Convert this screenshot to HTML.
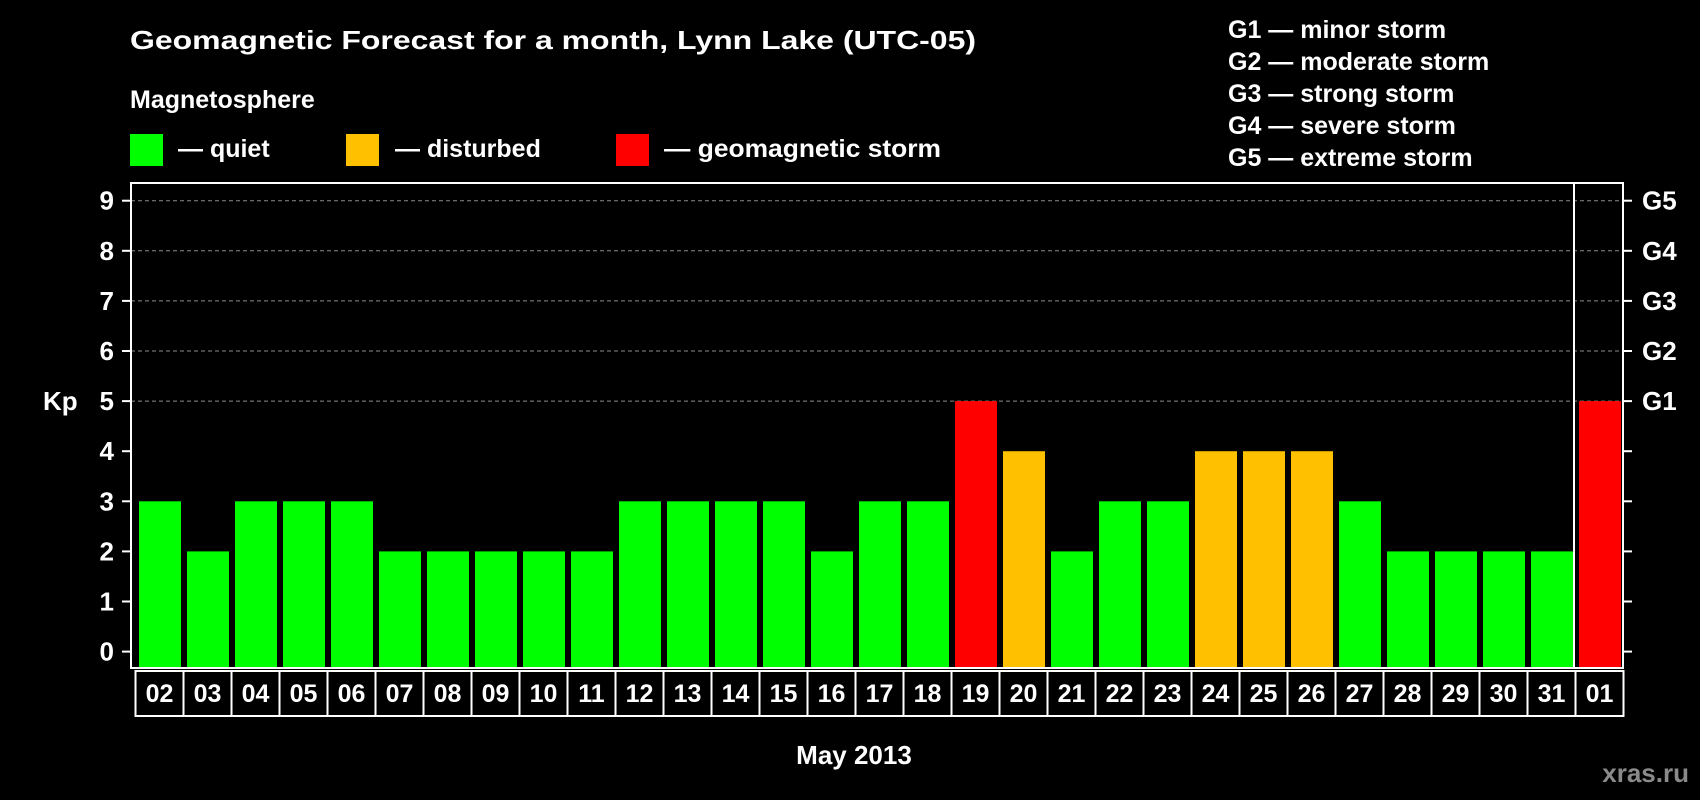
<!DOCTYPE html>
<html><head><meta charset="utf-8"><style>
html,body{margin:0;padding:0;background:#000;}
svg{display:block;font-family:"Liberation Sans",Arial,sans-serif;font-weight:bold;}
</style></head><body>
<svg id="chart" width="1700" height="800" viewBox="0 0 1700 800" xmlns="http://www.w3.org/2000/svg">
<rect x="0" y="0" width="1700" height="800" fill="#000"/>
<text x="130" y="49" fill="#fff" font-size="26" textLength="846" lengthAdjust="spacingAndGlyphs">Geomagnetic Forecast for a month, Lynn Lake (UTC-05)</text>
<text x="130" y="108" fill="#fff" font-size="25">Magnetosphere</text>
<g>
<rect x="130" y="134" width="33" height="32" fill="#00ff00"/>
<text x="178" y="157" fill="#fff" font-size="25">— quiet</text></g>
<g>
<rect x="346" y="134" width="33" height="32" fill="#ffc000"/>
<text x="395" y="157" fill="#fff" font-size="25">— disturbed</text></g>
<g>
<rect x="616" y="134" width="33" height="32" fill="#ff0000"/>
<text x="664" y="157" fill="#fff" font-size="25" textLength="277" lengthAdjust="spacingAndGlyphs">— geomagnetic storm</text></g>
<g fill="#fff" font-size="25">
<text x="1228" y="38">G1 — minor storm</text>
<text x="1228" y="70">G2 — moderate storm</text>
<text x="1228" y="102">G3 — strong storm</text>
<text x="1228" y="134">G4 — severe storm</text>
<text x="1228" y="166">G5 — extreme storm</text>
</g>
<text x="43" y="410" fill="#fff" font-size="26">Kp</text>
<text x="854" y="764" fill="#fff" font-size="26" text-anchor="middle">May 2013</text>
<text x="1689" y="782" fill="#8a8a8a" font-size="26" text-anchor="end">xras.ru</text>
<g id="plot"></g>
</svg>
<script>
const categories=["02","03","04","05","06","07","08","09","10","11","12","13","14","15","16","17","18","19","20","21","22","23","24","25","26","27","28","29","30","31","01"];
const kpValues=[3,2,3,3,3,2,2,2,2,2,3,3,3,3,2,3,3,5,4,2,3,3,4,4,4,3,2,2,2,2,5];
const yTicks=[0,1,2,3,4,5,6,7,8,9];
const gLabels=["G1","G2","G3","G4","G5"];
const gLevels=[5,6,7,8,9];
const NS="http://www.w3.org/2000/svg";
const L=131,R=1623,T=183,B=668,Y0=651.6,UNIT=50.1,X0=139,PITCH=48,BW=42;
const y=v=>Y0-v*UNIT;
const x=i=>X0+i*PITCH;
const g=document.getElementById('plot');
function mk(tag,a){const e=document.createElementNS(NS,tag);for(const k in a)e.setAttribute(k,a[k]);g.appendChild(e);return e;}
// grid
gLevels.forEach(v=>{
const ln=mk('line',{x1:L,x2:R,y1:y(v),y2:y(v),stroke:'#8c8c8c','stroke-width':1,'stroke-dasharray':'4,3'});


});
// bars
kpValues.forEach((v,i)=>{
const c=v>=5?'#ff0000':(v>=4?'#ffc000':'#00ff00');
const r=mk('rect',{x:x(i),y:y(v),width:BW,height:B-y(v),fill:c});


});
// frame
const fr=mk('rect',{x:L,y:T,width:R-L,height:B-T,fill:'none',stroke:'#fff','stroke-width':2});


const sep=mk('line',{x1:x(categories.length-1)-5,x2:x(categories.length-1)-5,y1:T,y2:B,stroke:'#fff','stroke-width':2});


// y ticks
yTicks.forEach(v=>{
const t=mk('line',{x1:L-9,x2:L,y1:y(v),y2:y(v),stroke:'#fff','stroke-width':2});


const t2=mk('line',{x1:R,x2:R+9,y1:y(v),y2:y(v),stroke:'#fff','stroke-width':2});


const tx=mk('text',{x:L-17,y:y(v)+9,fill:'#fff','font-size':26,'text-anchor':'end'});
tx.textContent=v;


});
gLabels.forEach((s,i)=>{
const tx=mk('text',{x:R+19,y:y(gLevels[i])+9,fill:'#fff','font-size':26});
tx.textContent=s;


});
// x labels boxes
categories.forEach((c,i)=>{
const bx=mk('rect',{x:x(i)-3.5,y:B+3,width:PITCH,height:45,fill:'#000',stroke:'#fff','stroke-width':2});


const tx=mk('text',{x:x(i)-3.5+PITCH/2,y:B+34,fill:'#fff','font-size':25,'text-anchor':'middle'});
tx.textContent=c;


});
</script>
</body></html>
